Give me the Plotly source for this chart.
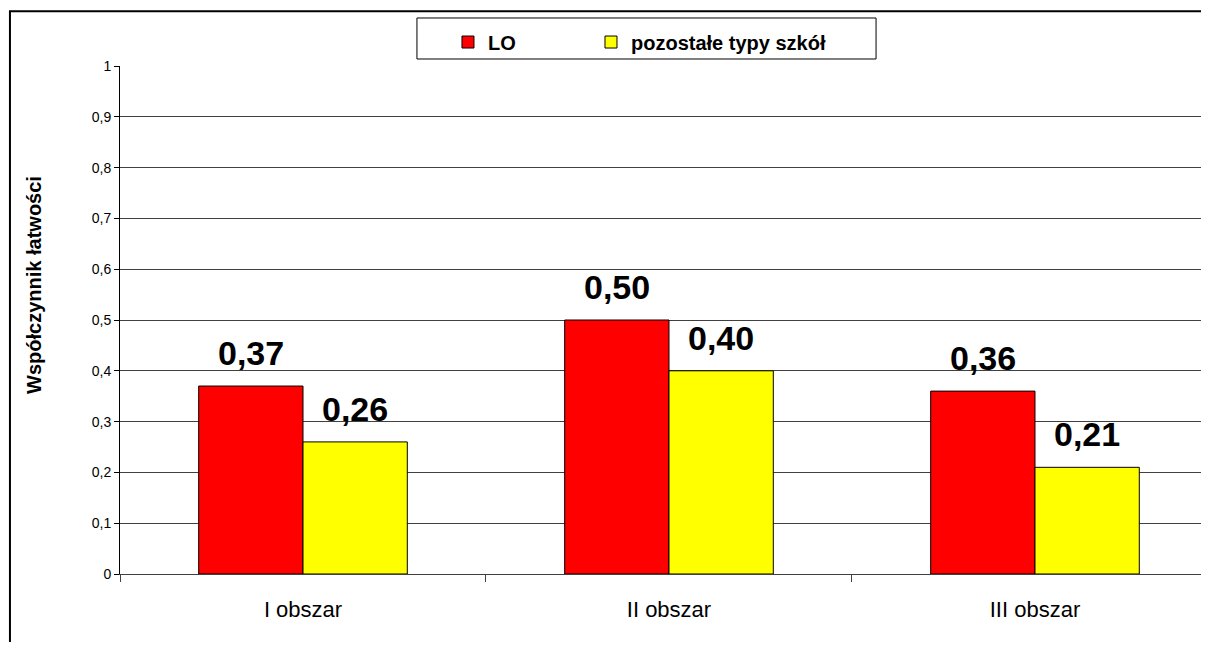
import plotly.graph_objects as go

categories = ["I obszar", "II obszar", "III obszar"]
lo_values = [0.37, 0.50, 0.36]
other_values = [0.26, 0.40, 0.21]
series_names = ["LO", "pozostałe typy szkół"]
y_title = "Współczynnik łatwości"

FONT = "Liberation Sans, Arial, sans-serif"
LEG_FONT = dict(family=FONT, size=20, color="#000000", weight="bold")

fig = go.Figure()
fig.add_trace(go.Bar(name=series_names[0], x=categories, y=lo_values, legend="legend",
                     marker=dict(color="#FF0000", line=dict(color="#000000", width=1))))
fig.add_trace(go.Bar(name=series_names[1], x=categories, y=other_values, legend="legend2",
                     marker=dict(color="#FFFF00", line=dict(color="#000000", width=1))))

annotations = []
for vals, shift in ((lo_values, -52), (other_values, 52)):
    for c, v in zip(categories, vals):
        annotations.append(dict(x=c, y=v, xref="x", yref="y", text=f"{v:.2f}".replace(".", ","),
                                showarrow=False, xshift=shift, yshift=12, yanchor="bottom",
                                font=dict(family=FONT, size=34, color="#000000", weight="bold")))
annotations.append(dict(x=-0.0796, y=0.569, xref="paper", yref="paper", text=f"<b>{y_title}</b>",
                        textangle=-90, showarrow=False, xanchor="center", yanchor="middle",
                        font=dict(family=FONT, size=20, color="#000000")))

fig.update_layout(
    width=1193, height=634,
    margin=dict(l=112, r=0, t=58, b=68),
    paper_bgcolor="white", plot_bgcolor="white",
    separators=", ",
    barmode="group", bargap=0.43, bargroupgap=0,
    font=dict(family=FONT, color="#000000"),
    showlegend=True,
    legend=dict(orientation="h", x=0.3034, xanchor="left", y=1.0472, yanchor="middle",
                borderwidth=0, bgcolor="rgba(0,0,0,0)", font=LEG_FONT),
    legend2=dict(orientation="h", x=0.4357, xanchor="left", y=1.0472, yanchor="middle",
                 borderwidth=0, bgcolor="rgba(0,0,0,0)", font=LEG_FONT),
    annotations=annotations,
    shapes=[
        dict(type="rect", xref="paper", yref="paper", x0=-0.1018, x1=1.2, y0=-0.4, y1=1.108,
             line=dict(color="#000000", width=2), layer="above"),
        dict(type="rect", xref="paper", yref="paper", x0=0.2747, x1=0.6994, y0=1.0138, y1=1.0945,
             line=dict(color="#000000", width=1), layer="below"),
    ],
)
fig.update_xaxes(range=[-0.5, 2.4536], tickson="boundaries", ticks="outside", ticklen=7,
                 tickcolor="#404040", showline=True, linecolor="#404040", linewidth=1,
                 showgrid=False, tickfont=dict(family=FONT, size=22, color="#000000"),
                 ticklabelstandoff=16)
fig.update_yaxes(range=[0, 1], dtick=0.1, ticks="outside", ticklen=5, tickcolor="#000000",
                 showline=True, linecolor="#000000", linewidth=1,
                 showgrid=True, gridcolor="#404040", gridwidth=1, zeroline=False,
                 tickfont=dict(family=FONT, size=14, color="#000000"))

fig.write_html("out.html")
